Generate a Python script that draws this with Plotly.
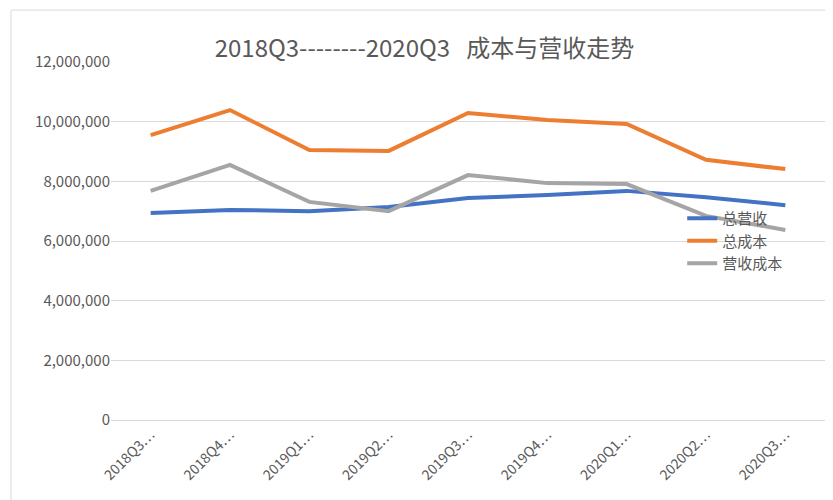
import plotly.graph_objects as go

quarters = ["2018Q3…", "2018Q4…", "2019Q1…", "2019Q2…", "2019Q3…",
            "2019Q4…", "2020Q1…", "2020Q2…", "2020Q3…"]
revenue = [6940000, 7040000, 7000000, 7140000, 7440000, 7540000, 7680000, 7470000, 7200000]
total_cost = [9550000, 10390000, 9050000, 9020000, 10290000, 10060000, 9920000, 8720000, 8410000]
op_cost = [7680000, 8550000, 7310000, 7000000, 8210000, 7940000, 7910000, 6840000, 6370000]

fig = go.Figure()
for name, vals, color in [("总营收", revenue, "#4472C4"),
                          ("总成本", total_cost, "#ED7D31"),
                          ("营收成本", op_cost, "#A5A5A5")]:
    fig.add_trace(go.Scatter(x=quarters, y=vals, name=name, mode="lines",
                             line=dict(color=color, width=4)))

fig.update_layout(
    width=833, height=500,
    font=dict(family="Noto Sans CJK SC", color="#595959", size=14),
    title=dict(text="2018Q3--------2020Q3   成本与营收走势", x=0.5, y=0.935,
               font=dict(size=24, color="#595959")),
    plot_bgcolor="white", paper_bgcolor="white",
    margin=dict(l=103, r=16, t=54, b=88),
    legend=dict(x=0.8, y=0.5, bgcolor="rgba(0,0,0,0)", tracegroupgap=10,
                font=dict(size=15, color="#595959")),
    xaxis=dict(tickangle=-45, showgrid=False, showline=True, linecolor="#D9D9D9",
               range=[-0.5, 8.5], tickfont=dict(size=14)),
    yaxis=dict(range=[0, 12000000], dtick=2000000, tickformat=",", gridcolor="#D9D9D9",
               zeroline=False, tickfont=dict(size=15)),
    shapes=[dict(type="rect", xref="paper", yref="paper", x0=-0.14, y0=-0.24, x1=1.018, y1=1.145,
                 line=dict(color="#D9D9D9", width=1))],
)
fig.write_html("out.html")
